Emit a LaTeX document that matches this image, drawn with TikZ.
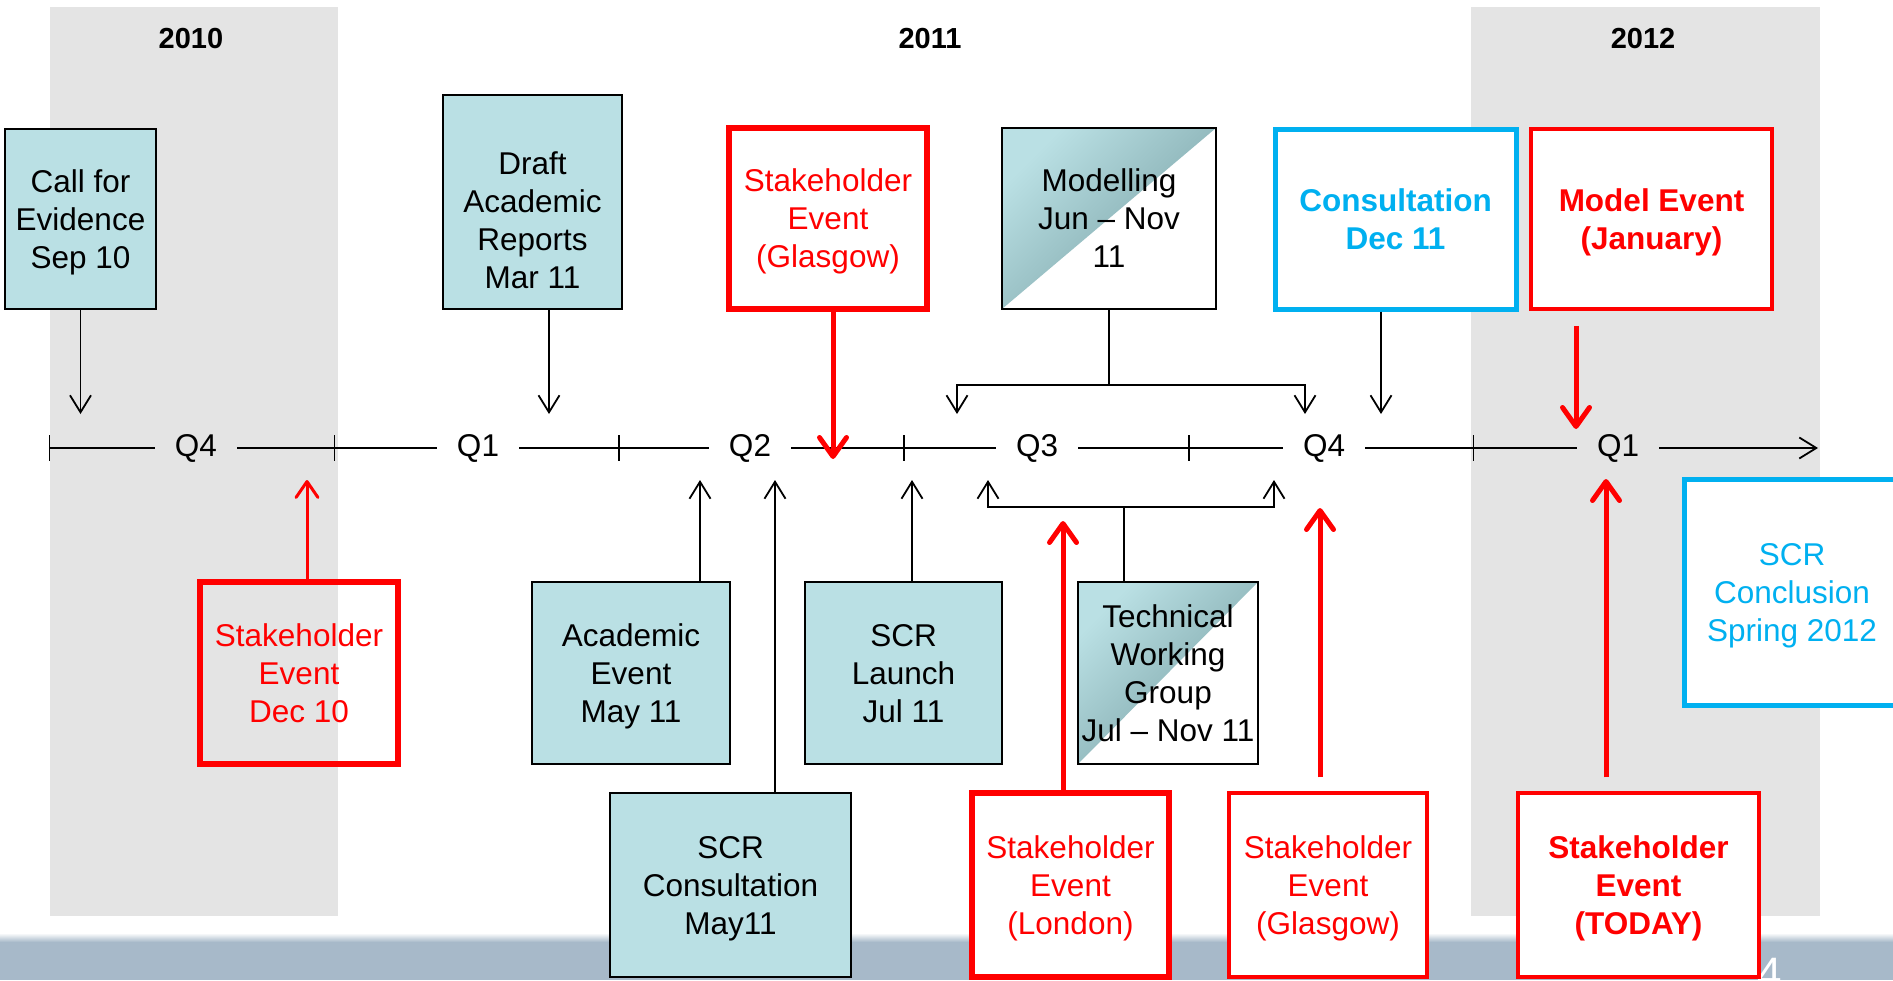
\documentclass[tikz,border=0pt]{standalone}
\usepackage{xcolor}
\usepackage{fontspec}
\setmainfont{Liberation Sans}
\usetikzlibrary{arrows.meta}

\definecolor{teal1}{RGB}{186,224,228}
\definecolor{teal2}{RGB}{118,158,162}
\definecolor{greyband}{RGB}{228,228,228}
\definecolor{slate}{RGB}{167,185,201}
\definecolor{sky}{RGB}{0,176,240}
\definecolor{red1}{RGB}{255,0,0}

\newcommand\boxfont{\fontsize{31.5}{38}\selectfont}

\tikzset{
  box/.style={draw, minimum width=198pt, minimum height=182pt, align=center, font=\boxfont, inner sep=0pt, text depth=-11pt},
  tealbox/.style={box, fill=teal1, line width=1.5pt},
  halfbox/.style={box, line width=1.5pt, path picture={
      \shade[top color=teal1, bottom color=teal2, shading angle=45]
        (path picture bounding box.north west) -- (path picture bounding box.north east)
        -- (path picture bounding box.south west) -- cycle;}},
  redbox/.style={box, draw=red1, text=red1, fill=white, line width=6pt},
  redthin/.style={redbox, line width=3.5pt},
  bluebox/.style={box, draw=sky, text=sky, fill=white, line width=5pt},
  tline/.style={line width=1.8pt},
  blk/.style={line width=1.8pt, -{Straight Barb[length=17pt,width=21pt]}},
  redarr/.style={draw=red1, line width=5pt, -{Straight Barb[length=19pt,width=27pt,round]}},
  redarrthin/.style={draw=red1, line width=3pt, -{Straight Barb[length=16pt,width=22pt,round]}},
  ql/.style={font=\boxfont, minimum width=82pt, inner sep=0pt},
  yr/.style={font=\fontsize{29}{34}\selectfont\bfseries},
}

\begin{document}
\begin{tikzpicture}[x=1pt, y=-1pt]
  \useasboundingbox (0,0) rectangle (1893,980);
  \clip (0,0) rectangle (1893,980);

  \fill[greyband] (49.5,7) rectangle (338,916);
  \fill[greyband] (1471,7) rectangle (1820,916);
  \fill[slate] (0,935) rectangle (1893,980);
  \shade[top color=white, bottom color=slate] (0,933) rectangle (1893,942);
  \node[white, anchor=north west, inner sep=0pt, font=\fontsize{44}{50}\selectfont] (pg) at (1757,958) {4};

  \node[yr] (y1) at (191,39) {2010};
  \node[yr] (y2) at (930,39) {2011};
  \node[yr] (y3) at (1643,39) {2012};

  \foreach \n/\x in {0/49.5,1/334.5,2/619,3/904,4/1189,5/1473.5} {
    \coordinate (k\n) at (\x,448);
    \draw[tline] (\x,435) -- (\x,461);
  }
  \node[ql] (q1) at (196,448) {Q4};
  \node[ql] (q2) at (478,448) {Q1};
  \node[ql] (q3) at (750,448) {Q2};
  \node[ql] (q4) at (1037,448) {Q3};
  \node[ql] (q5) at (1324,448) {Q4};
  \node[ql] (q6) at (1618,448) {Q1};
  \coordinate (kend) at (1818,448);
  \draw[tline] (k0) -- (q1) -- (k1) -- (q2) -- (k2) -- (q3) -- (k3) -- (q4) -- (k4) -- (q5) -- (k5) -- (q6);
  \draw[blk] (q6) -- (kend);

  \node[tealbox, minimum width=151pt, minimum height=180pt] (t1) at (80.5,219) {Call for\\Evidence\\Sep 10};
  \node[tealbox, minimum width=179pt, minimum height=214pt] (t2) at (532.5,202) {};
  \node[font=\boxfont, align=center] (t2l) at (532.5,220) {Draft\\Academic\\Reports\\Mar 11};
  \node[redbox, minimum height=181pt] (t3) at (828,218.5) {Stakeholder\\Event\\(Glasgow)};
  \node[halfbox, minimum width=214pt, minimum height=181pt] (t4) at (1109,218.5) {Modelling\\Jun – Nov\\11};
  \node[bluebox, minimum width=241pt, minimum height=180pt, font=\boxfont\bfseries] (t5) at (1395.5,219) {Consultation\\Dec 11};
  \node[redthin, minimum width=241pt, minimum height=180pt, font=\boxfont\bfseries] (t6) at (1651.5,219) {Model Event\\(January)};

  \node[redbox, fill=none] (b1) at (299,673) {Stakeholder\\Event\\Dec 10};
  \node[tealbox] (b2) at (631,673) {Academic\\Event\\May 11};
  \node[tealbox, minimum width=197pt] (b3) at (903.5,673) {SCR\\Launch\\Jul 11};
  \node[halfbox, minimum width=180pt] (b4) at (1168,673) {Technical\\Working\\Group\\Jul – Nov 11};

  \node[tealbox, minimum width=241pt, minimum height=184pt] (c1) at (730.5,885) {SCR\\Consultation\\May11};
  \node[redbox, minimum width=197pt, minimum height=184pt] (c2) at (1070.5,885) {Stakeholder\\Event\\(London)};
  \node[redthin, minimum height=184pt] (c3) at (1328,885) {Stakeholder\\Event\\(Glasgow)};
  \node[redthin, minimum width=241pt, minimum height=184pt, font=\boxfont\bfseries] (c4) at (1638.5,885) {Stakeholder\\Event\\(TODAY)};

  \node[bluebox, minimum width=216pt, minimum height=226pt] (s1) at (1792,592) {SCR\\Conclusion\\Spring 2012};

  \coordinate (p1) at (80.5,414);
  \coordinate (p2) at (549,414);
  \coordinate (p3) at (833,459);
  \coordinate (p4) at (957,414);
  \coordinate (p5) at (1305,414);
  \coordinate (p6) at (1381,414);
  \coordinate (p7) at (1576,429);
  \coordinate (r1) at (307,480);
  \coordinate (r2) at (700,480);
  \coordinate (r3) at (775,480);
  \coordinate (r4) at (912,480);
  \coordinate (r5) at (988,480);
  \coordinate (r6) at (1274,480);
  \coordinate (r7) at (1063,521);
  \coordinate (r8) at (1320,508);
  \coordinate (r9) at (1606,479);

  \draw[blk] (t1.south) -- (p1);
  \draw[blk] (t2.south -| p2) -- (p2);
  \draw[redarr] (t3.south -| p3) -- (p3);
  \draw[blk] (t4.south) |- ([yshift=29pt]p4) -- (p4);
  \draw[blk] (t4.south) |- ([yshift=29pt]p5) -- (p5);
  \draw[blk] (t5.south -| p6) -- (p6);
  \draw[redarr, shorten <=15pt] (t6.south -| p7) -- (p7);

  \draw[redarrthin] (b1.north -| r1) -- (r1);
  \draw[blk] (b2.north -| r2) -- (r2);
  \draw[blk] (c1.north -| r3) -- (r3);
  \draw[blk] (b3.north -| r4) -- (r4);
  \draw[blk] ([xshift=-44pt]b4.north) |- ([yshift=-27pt]r5) -- (r5);
  \draw[blk] ([xshift=-44pt]b4.north) |- ([yshift=-27pt]r6) -- (r6);
  \draw[redarr] (c2.north -| r7) -- (r7);
  \draw[redarr, shorten <=14pt] (c3.north -| r8) -- (r8);
  \draw[redarr, shorten <=14pt] (c4.north -| r9) -- (r9);
\end{tikzpicture}
\end{document}
